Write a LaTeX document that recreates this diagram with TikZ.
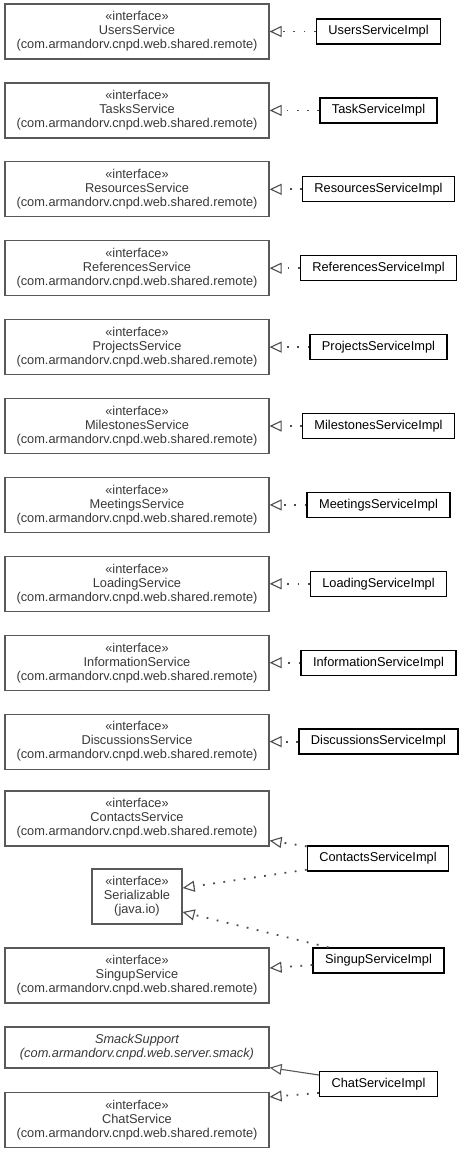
\documentclass[tikz,border=0pt]{standalone}
\usepackage{fontspec}
\setmainfont{Liberation Sans}
\usetikzlibrary{arrows.meta}
\begin{document}
\begin{tikzpicture}[x=1pt,y=-1pt,
  font=\fontsize{12.8}{14}\selectfont,
  iface/.style={draw=black!65, line width=1.2pt, text=black!78, minimum width=264pt,
    minimum height=55pt, inner sep=0pt, align=center},
  implbox/.style={draw=black, line width=1.3pt, minimum height=25pt, inner xsep=12pt,
    inner ysep=0pt, text=black},
  realize/.style={draw=black!70, line width=1.8pt, dash pattern=on 1.8pt off 8.5pt,
    -{Triangle[open,length=12pt,width=11pt,line width=1.1pt,sep=0pt]}},
  extend/.style={draw=black!65, line width=1.1pt,
    -{Triangle[open,length=12pt,width=11pt,line width=1.1pt]}}]
\useasboundingbox (0,0) rectangle (464,1152);

\foreach \i/\n/\m in {0/Users/UsersServiceImpl, 1/Tasks/TaskServiceImpl,
  2/Resources/ResourcesServiceImpl, 3/References/ReferencesServiceImpl,
  4/Projects/ProjectsServiceImpl, 5/Milestones/MilestonesServiceImpl,
  6/Meetings/MeetingsServiceImpl, 7/Loading/LoadingServiceImpl,
  8/Information/InformationServiceImpl, 9/Discussions/DiscussionsServiceImpl}{
  \node[iface] (i\i) at (137,{31.5+78.9*\i}) {«interface»\\\n Service\\(com.armandorv.cnpd.web.shared.remote)};
  \node[implbox] (m\i) at (378.5,{31.5+78.9*\i}) {\m};
  \draw[realize] (m\i) -- (i\i);
}

\node[iface] (contacts) at (137,818.5) {«interface»\\ContactsService\\(com.armandorv.cnpd.web.shared.remote)};
\node[iface, minimum width=90pt] (ser) at (137,896.5) {«interface»\\Serializable\\(java.io)};
\node[iface] (singup) at (137,975.5) {«interface»\\SingupService\\(com.armandorv.cnpd.web.shared.remote)};
\node[iface, minimum height=41pt, font=\fontsize{12.8}{14}\selectfont\itshape] (smack) at (137,1047.5) {SmackSupport\\(com.armandorv.cnpd.web.server.smack)};
\node[iface] (chat) at (137,1120) {«interface»\\ChatService\\(com.armandorv.cnpd.web.shared.remote)};

\node[implbox] (cimpl) at (378,858.5) {ContactsServiceImpl};
\node[implbox] (simpl) at (378.5,960.5) {SingupServiceImpl};
\node[implbox] (chimpl) at (378.5,1084) {ChatServiceImpl};

\draw[realize] ([yshift=-1pt]cimpl.north west) -- ([yshift=6pt]contacts.south east);
\draw[realize] ([yshift=2pt]cimpl.south west) -- ([yshift=8.5pt]ser.east);
\draw[realize] ([xshift=16pt]simpl.north west) -- ([yshift=-15.5pt]ser.east);
\draw[realize] ([yshift=-4.5pt]simpl.west) -- ([yshift=7.5pt]singup.east);
\draw[extend] ([yshift=9pt]chimpl.west) -- ([yshift=1pt]smack.south east);
\draw[realize] ([yshift=-9pt]chimpl.west) -- ([yshift=-5pt]chat.north east);
\end{tikzpicture}
\end{document}
